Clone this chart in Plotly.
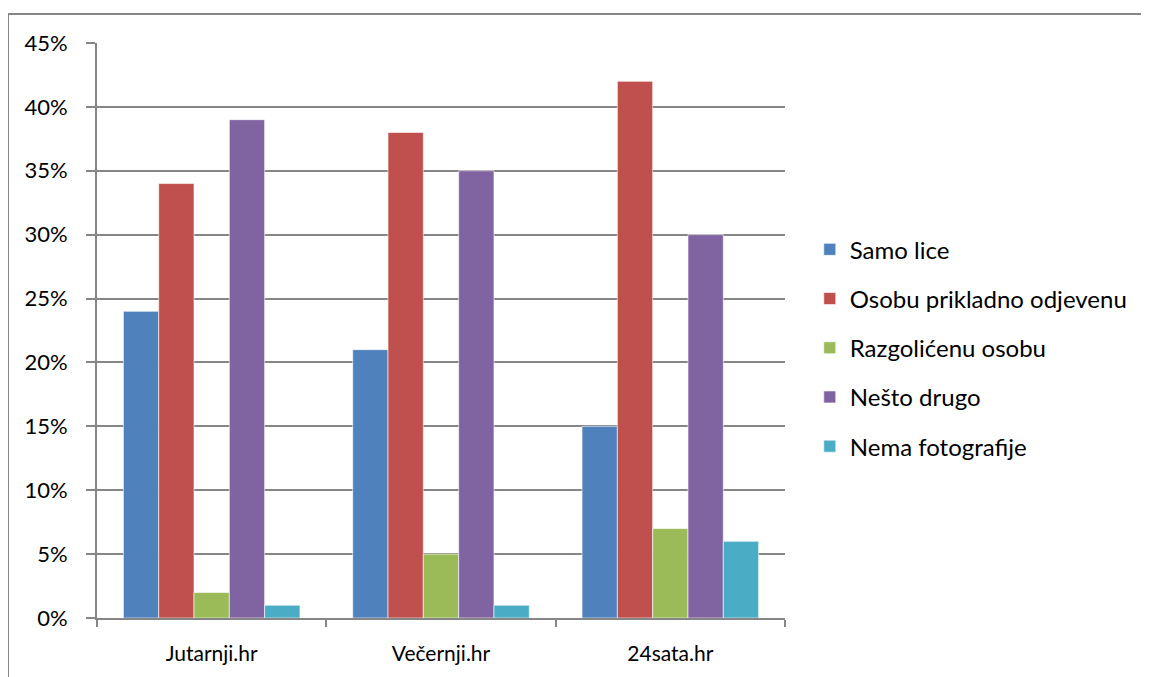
import plotly.graph_objects as go

categories = ["Jutarnji.hr", "Večernji.hr", "24sata.hr"]
series_names = ["Samo lice", "Osobu prikladno odjevenu", "Razgolićenu osobu", "Nešto drugo", "Nema fotografije"]
samo_lice = [0.24, 0.21, 0.15]
osobu_prikladno = [0.34, 0.38, 0.42]
razgolicenu = [0.02, 0.05, 0.07]
nesto_drugo = [0.39, 0.35, 0.30]
nema_foto = [0.01, 0.01, 0.06]
colors = ["#4F81BD", "#C0504D", "#9BBB59", "#8064A2", "#4BACC6"]
y_ticks = [0, 0.05, 0.10, 0.15, 0.20, 0.25, 0.30, 0.35, 0.40, 0.45]

values = [samo_lice, osobu_prikladno, razgolicenu, nesto_drugo, nema_foto]

OFF = 8  # page body margin
W, H = 1149 - OFF, 677 - OFF
L, R, T, B = 97 - OFF, 785 - OFF, 43 - OFF, 618 - OFF

fig = go.Figure()
for i, (name, vals) in enumerate(zip(series_names, values)):
    fig.add_trace(go.Bar(
        x=categories, y=vals, name=name,
        marker=dict(color=colors[i], line=dict(color="rgba(255,255,255,0.6)", width=1)),
        legendgroup=f"g{i}",
    ))

pw = R - L
ph = B - T
fig.add_shape(type="rect", xref="paper", yref="paper",
              x0=(8 - OFF - L) / pw, x1=(W + 20 - L) / pw,
              y0=(B - (H + 20)) / ph, y1=(B - (14 - OFF)) / ph,
              line=dict(color="#868686", width=2), fillcolor="rgba(0,0,0,0)", layer="below")

fig.update_layout(
    width=W, height=H,
    margin=dict(l=L, r=W - R, t=T, b=H - B, autoexpand=False),
    paper_bgcolor="white", plot_bgcolor="white",
    barmode="group", bargap=0.23, bargroupgap=0,
    font=dict(family="Lato, Open Sans, sans-serif", size=20, color="#000000"),
    showlegend=True,
    legend=dict(x=1.036, y=0.47, xanchor="left", yanchor="middle",
                font=dict(size=24), tracegroupgap=15, itemwidth=30,
                bgcolor="rgba(0,0,0,0)"),
    xaxis=dict(showline=True, linecolor="#868686", linewidth=2,
               ticks="outside", tickson="boundaries", ticklen=7, tickcolor="#868686", tickwidth=2,
               showgrid=False, tickfont=dict(size=21), ticklabelstandoff=16),
    yaxis=dict(range=[0, 0.45], tickvals=y_ticks, tickformat=".0%",
               showline=True, linecolor="#868686", linewidth=2,
               ticks="outside", ticklen=9, tickcolor="#868686", tickwidth=2,
               showgrid=True, gridcolor="#868686", gridwidth=1.5,
               zeroline=False, tickfont=dict(size=22), ticklabelstandoff=14),
)

fig.write_html("out.html")
